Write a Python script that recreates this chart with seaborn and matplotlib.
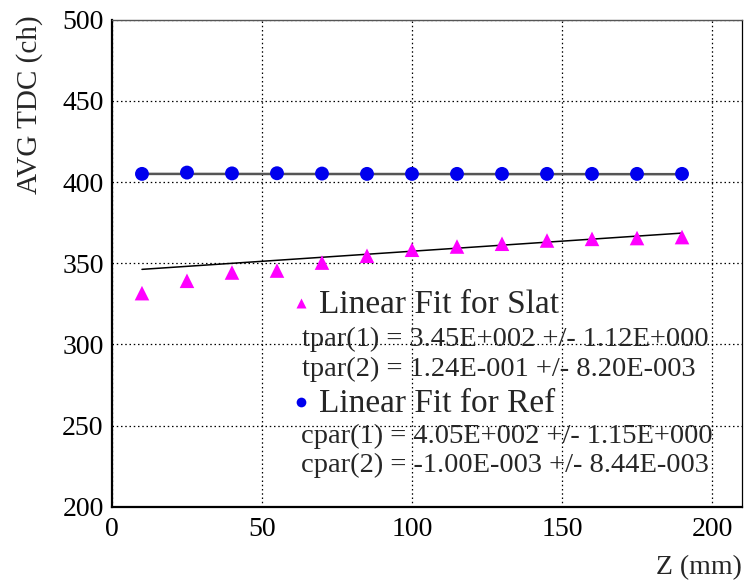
import numpy as np
import pandas as pd
import matplotlib
matplotlib.use("Agg")
import matplotlib.pyplot as plt
import seaborn as sns

# Measurement positions along the slat (mm)
z_mm = [10, 25, 40, 55, 70, 85, 100, 115, 130, 145, 160, 175, 190]
# Average TDC for the slat channel and for the reference channel
slat_tdc = [331.6, 339.2, 344.3, 345.5, 350.4, 354.6, 358.3, 360.3, 362.0, 364.0, 365.0, 365.5, 366.1]
ref_tdc = [405.0, 405.8, 405.3, 405.4, 405.2, 405.0, 405.0, 405.0, 405.0, 405.0, 405.0, 405.0, 405.0]

# Linear fit parameters (intercept, slope) with errors
tpar = [3.45e2, 1.24e-1]
tpar_err = [1.12e0, 8.20e-3]
cpar = [4.05e2, -1.00e-3]
cpar_err = [1.15e0, 8.44e-3]

x_ticks = [0, 50, 100, 150, 200]
y_ticks = [200, 250, 300, 350, 400, 450, 500]


def sci(v):
    """Format like 3.45E+002 (three-digit exponent)."""
    mant, exp = f"{v:.2E}".split("E")
    e = int(exp)
    return f"{mant}E{'+' if e >= 0 else '-'}{abs(e):03d}"


sns.set_style("white")
plt.rcParams["font.family"] = ["Liberation Serif", "DejaVu Serif"]

fig = plt.figure(figsize=(7.45, 5.81), dpi=100)
ax = fig.add_axes([0.1503, 0.1274, 0.8457, 0.8390])

df = pd.DataFrame({"z": z_mm, "slat": slat_tdc, "ref": ref_tdc})
zfit = np.array([z_mm[0], z_mm[-1]], dtype=float)
fit = pd.DataFrame({
    "z": zfit,
    "slat": tpar[0] + tpar[1] * zfit,
    "ref": cpar[0] + cpar[1] * zfit,
})

sns.lineplot(data=fit, x="z", y="ref", ax=ax, color="#555555", lw=1.8, zorder=2)
sns.lineplot(data=fit, x="z", y="slat", ax=ax, color="black", lw=1.1, zorder=2)
sns.scatterplot(data=df, x="z", y="ref", ax=ax, marker="o", s=100, color="#0000ee",
                edgecolor="none", zorder=3)
sns.scatterplot(data=df, x="z", y="slat", ax=ax, marker="^", s=110, color="#ff00ff",
                edgecolor="none", zorder=3)

ax.set_xlim(0, 210)
ax.set_ylim(200, 500)
ax.set_xticks(x_ticks)
ax.set_yticks(y_ticks)
ax.set_xticks(np.arange(25, 210, 50), minor=True)
ax.set_yticks(np.arange(225, 500, 50), minor=True)
ax.tick_params(axis="both", which="both", direction="in", labelsize=20, colors="black",
               top=False, right=False)
ax.tick_params(axis="x", which="major", length=12, width=1.0, pad=7)
ax.tick_params(axis="x", which="minor", length=6, width=1.0)
ax.tick_params(axis="y", which="major", length=14, width=1.0, pad=6)
ax.tick_params(axis="y", which="minor", length=7, width=1.0)

ax.grid(True, which="major", color="black", lw=0.9, ls=(0, (1.2, 2.2)))
ax.set_axisbelow(True)

for side in ["left", "bottom"]:
    ax.spines[side].set_linewidth(1.6)
    ax.spines[side].set_color("black")
ax.spines["right"].set_linewidth(0.9)
ax.spines["right"].set_color("black")
ax.spines["top"].set_linewidth(1.0)
ax.spines["top"].set_color("#555555")
ax.spines["top"].set_linestyle((0, (2, 1)))

ax.set_xlabel("")
ax.set_ylabel("")
fig.text(742 / 745, 1 - 568 / 581, "Z (mm)", ha="right", va="center", fontsize=20)
fig.text(30 / 745, 1 - 15 / 581, "AVG TDC (ch)", ha="center", va="top", rotation=90, fontsize=21)

# Fit summary block
W, H = 745.0, 581.0


def fx(px):
    return px / W


def fy(py):
    return 1 - py / H


ax.plot([fx(301)], [fy(303)], marker="^", ms=7, color="#ff00ff", mec="none",
        transform=fig.transFigure, clip_on=False)
ax.plot([fx(300.5)], [fy(401.5)], marker="o", ms=7, color="#0000ee", mec="none",
        transform=fig.transFigure, clip_on=False)

big = 24
small = 20.5
fig.text(fx(319), fy(313), "Linear Fit for Slat", fontsize=big, va="baseline")
fig.text(fx(302), fy(346.5), f"tpar(1) = {sci(tpar[0])} +/- {sci(tpar_err[0])}",
         fontsize=small, va="baseline")
fig.text(fx(302), fy(376.5), f"tpar(2) = {sci(tpar[1])} +/- {sci(tpar_err[1])}",
         fontsize=small, va="baseline")
fig.text(fx(319), fy(411.5), "Linear Fit for Ref", fontsize=big, va="baseline")
fig.text(fx(301), fy(443), f"cpar(1) = {sci(cpar[0])} +/- {sci(cpar_err[0])}",
         fontsize=small, va="baseline")
fig.text(fx(301), fy(471.5), f"cpar(2) = {sci(cpar[1])} +/- {sci(cpar_err[1])}",
         fontsize=small, va="baseline")

fig.savefig("out.png", dpi=100)
